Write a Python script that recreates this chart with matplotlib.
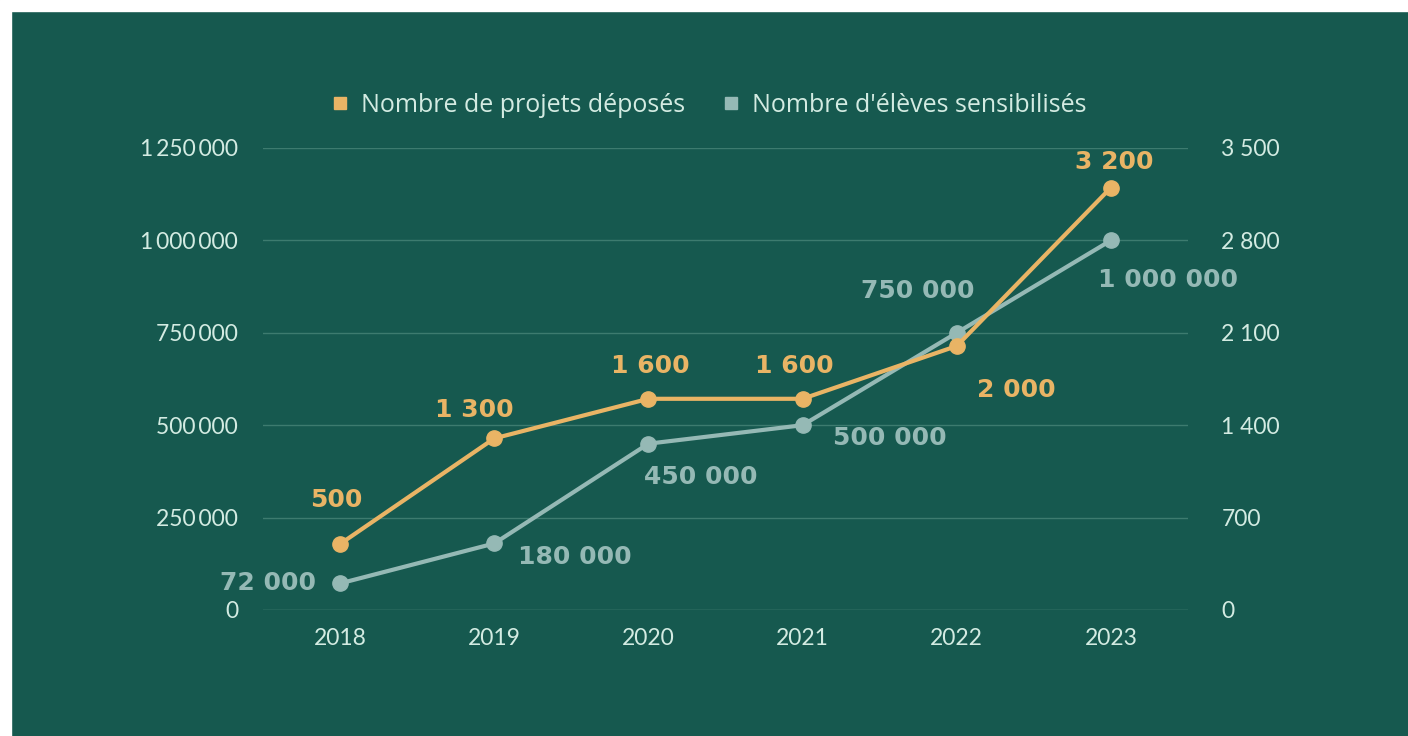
import matplotlib
matplotlib.use('Agg')
import matplotlib.pyplot as plt
from matplotlib.lines import Line2D
from matplotlib.patches import Rectangle
from matplotlib.ticker import FixedLocator, FuncFormatter

# ──── Data ─────────────────────────────────────────────────────
years = [2018, 2019, 2020, 2021, 2022, 2023]
projets = [500, 1300, 1600, 1600, 2000, 3200]
eleves = [72000, 180000, 450000, 500000, 750000, 1000000]
left_ticks = [0, 250000, 500000, 750000, 1000000, 1250000]
right_ticks = [0, 700, 1400, 2100, 2800, 3500]
legend_labels = ["Nombre de projets déposés", "Nombre d'élèves sensibilisés"]

# ──── Style ────────────────────────────────────────────────────
BG = '#16594f'
ORANGE = '#e9b465'
BLUE = '#95b9b5'
TXT = '#d3ebe2'
GRID = '#3d7b6f'
FONT = ['Lato', 'DejaVu Sans']

# label offsets in pixels (dx, dy) from each point
proj_off = [(-4, 44), (-20, 28), (2, 33), (-8, 33), (60, -44), (3, 26)]
elev_off = [(-72, 0), (81, -14), (52, -33), (87, -13), (-39, 42), (57, -40)]


def fmt_left(v, pos=None):
    return f"{int(v):,}".replace(',', '\u2009')


def fmt_right(v, pos=None):
    return f"{int(v):,}".replace(',', ' ')


def fmt_lab(v):
    return f"{int(v):,}".replace(',', ' ')


fig = plt.figure(figsize=(14.08, 7.36), dpi=100, facecolor=BG)
ax = fig.add_axes([263 / 1408, 1 - 610 / 736, (1188 - 263) / 1408, (610 - 148) / 736])
ax.set_facecolor(BG)
ax2 = ax.twinx()

ax.set_xlim(2017.5, 2023.5)
ax.set_ylim(0, 1250000)
ax2.set_ylim(0, 3500)

for s in list(ax.spines.values()) + list(ax2.spines.values()):
    s.set_visible(False)

ax.yaxis.set_major_locator(FixedLocator(left_ticks))
ax.yaxis.set_major_formatter(FuncFormatter(fmt_left))
ax2.yaxis.set_major_locator(FixedLocator(right_ticks))
ax2.yaxis.set_major_formatter(FuncFormatter(fmt_right))
ax.set_xticks(years)
ax.set_xticklabels([str(y) for y in years])

ax.tick_params(axis='y', length=0, pad=18, labelsize=16.5, labelcolor=TXT)
ax2.tick_params(axis='y', length=0, pad=24, labelsize=16.5, labelcolor=TXT)
ax.tick_params(axis='x', length=0, pad=13, labelsize=16.5, labelcolor=TXT)
for lab in ax.get_xticklabels() + ax.get_yticklabels() + ax2.get_yticklabels():
    lab.set_family(FONT)

for t in left_ticks:
    ax.axhline(t, color=GRID if t else '#5a9487', lw=1, zorder=0)

ax.plot(years, eleves, '-o', color=BLUE, lw=3, ms=11, zorder=3)
ax2.plot(years, projets, '-o', color=ORANGE, lw=3, ms=11, zorder=3)

for x, v, (dx, dy) in zip(years, eleves, elev_off):
    ax.annotate(fmt_lab(v), (x, v), xytext=(dx, dy), textcoords='offset pixels',
                ha='center', va='center', color=BLUE, fontsize=18,
                fontweight='bold', family='DejaVu Sans')
for x, v, (dx, dy) in zip(years, projets, proj_off):
    ax2.annotate(fmt_lab(v), (x, v), xytext=(dx, dy), textcoords='offset pixels',
                 ha='center', va='center', color=ORANGE, fontsize=18,
                 fontweight='bold', family='DejaVu Sans')

handles = [Line2D([], [], ls='', marker='s', ms=8, color=ORANGE),
           Line2D([], [], ls='', marker='s', ms=8, color=BLUE)]
leg = fig.legend(handles, legend_labels, loc='center', bbox_to_anchor=(0.503, 0.857),
                 ncol=2, frameon=False, labelcolor=TXT,
                 handlelength=0.8, handletextpad=0.45, columnspacing=1.4,
                 prop={'family': 'Open Sans', 'size': 18})
for t in leg.get_texts():
    t.set_color(TXT)

# white page edges
fig.patches.append(Rectangle((0, 0), 11 / 1408, 1, transform=fig.transFigure,
                             color='white', zorder=10))
fig.patches.append(Rectangle((0, 1 - 11 / 736), 1, 11 / 736, transform=fig.transFigure,
                             color='white', zorder=10))

fig.savefig('out.png', dpi=100, facecolor=BG)
